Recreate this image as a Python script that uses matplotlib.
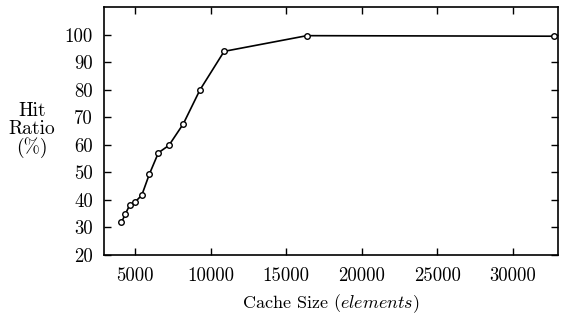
import matplotlib
matplotlib.use("Agg")
import matplotlib.pyplot as plt

cache_size = [4100, 4350, 4650, 5000, 5450, 5950, 6550, 7250, 8200, 9300, 10900, 16384, 32768]
hit_ratio = [31.8, 34.7, 38.1, 39.2, 41.7, 49.3, 57.1, 59.8, 67.6, 79.9, 93.9, 99.6, 99.4]
x_ticks = [5000, 10000, 15000, 20000, 25000, 30000]
y_ticks = [20, 30, 40, 50, 60, 70, 80, 90, 100]

plt.rcParams['font.family'] = ['cmr10', 'DejaVu Serif']
plt.rcParams['mathtext.fontset'] = 'cm'
plt.rcParams['axes.formatter.use_mathtext'] = True

fig = plt.figure(figsize=(5.69, 3.2), dpi=100)
ax = fig.add_axes([104/569, 1-255/320, (558-104)/569, (255-7)/320])

ax.plot(cache_size, hit_ratio, color='black', lw=1.2, marker='o', ms=4,
        mfc='white', mec='black', mew=1.0)

ax.set_xlim(2950, 33000)
ax.set_ylim(20, 110)
ax.set_xticks(x_ticks)
ax.set_yticks(y_ticks)
ax.set_xticklabels([str(v) for v in x_ticks])
ax.set_yticklabels([str(v) for v in y_ticks])
ax.tick_params(direction='in', length=5, width=1, top=True, right=True,
               labelsize=13.5)
ax.tick_params(axis='x', pad=9)
ax.tick_params(axis='y', pad=8)
for s in ax.spines.values():
    s.set_linewidth(1.2)

ax.set_xlabel(r'Cache Size ($\mathit{elements}$)', fontsize=13, va='center')
ax.xaxis.set_label_coords(0.5, (255-304)/248)
fig.text(32/569, 1-130/320, 'Hit\nRatio\n(%)', ha='center', va='center',
         fontsize=14, linespacing=0.95)

fig.savefig('out.png', dpi=100)
